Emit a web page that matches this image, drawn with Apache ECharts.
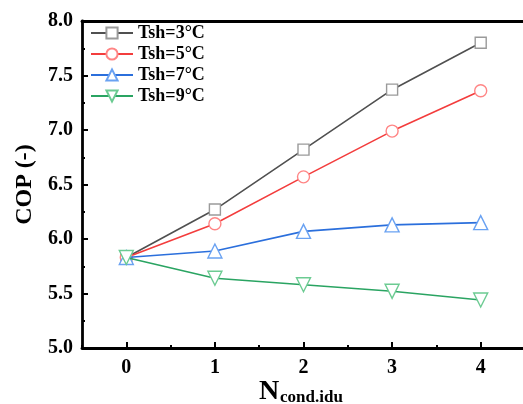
<!DOCTYPE html>
<html><head><meta charset="utf-8">
<script src="https://cdn.jsdelivr.net/npm/echarts@6/dist/echarts.min.js"></script>
<style>html,body{margin:0;padding:0;background:#fff}#c{width:523px;height:404px}</style>
</head><body><div id="c"></div>
<script>
var categories = [0, 1, 2, 3, 4];
var seriesNames = ['Tsh=3°C', 'Tsh=5°C', 'Tsh=7°C', 'Tsh=9°C'];
var tsh3 = [5.83, 6.27, 6.82, 7.37, 7.80];
var tsh5 = [5.83, 6.14, 6.57, 6.99, 7.36];
var tsh7 = [5.83, 5.89, 6.07, 6.13, 6.15];
var tsh9 = [5.83, 5.64, 5.58, 5.52, 5.44];
var xTickLabels = [0, 1, 2, 3, 4];
var xName = 'N';
var xNameSub = 'cond.idu';
var yName = 'COP (-)';

var FONT = '"Liberation Serif","Times New Roman",serif';
var lineColors = ['#505050', '#f33d3d', '#2b6fdc', '#2aa462'];
var markColors = ['#9a9a9a', '#ff8585', '#6aa2f2', '#6ccb92'];
var symbols = ['rect', 'circle', 'triangle', 'path://M0,0 L10,0 L5,9 Z'];
var sizes = [11, 12, 14, 14];
var datas = [tsh3, tsh5, tsh7, tsh9];

var series = datas.map(function (d, i) {
  return {
    name: seriesNames[i], type: 'line',
    data: categories.map(function (c, j) { return [c, d[j]]; }),
    symbol: symbols[i], symbolSize: sizes[i],
    lineStyle: { color: lineColors[i], width: 1.6 },
    itemStyle: { color: '#fff', borderColor: markColors[i], borderWidth: 1.4 },
    emphasis: { disabled: true }, animation: false, z: 3 + i
  };
});

var chart = echarts.init(document.getElementById('c'), null, { renderer: 'canvas' });
chart.setOption({
  animation: false,
  backgroundColor: '#fff',
  grid: { left: 82, top: 21, right: -2, bottom: 56, containLabel: false, outerBoundsMode: 'none' },
  legend: {
    orient: 'vertical', left: 90, top: 24, padding: 0, itemWidth: 42, itemHeight: 14, itemGap: 3,
    data: seriesNames,
    textStyle: { fontFamily: FONT, fontWeight: 'bold', fontSize: 18, color: '#000', lineHeight: 18 }
  },
  graphic: [{
    type: 'text', left: 259, top: 378, silent: true,
    style: { text: xName, fontFamily: FONT, fontWeight: 'bold', fontSize: 28, fill: '#000' }
  }, {
    type: 'text', left: 280, top: 389, silent: true,
    style: { text: xNameSub, fontFamily: FONT, fontWeight: 'bold', fontSize: 17, fill: '#000' }
  }],
  xAxis: [{
    type: 'value', min: -0.5, max: 4.5, position: 'bottom',
    axisLine: { show: true, onZero: false, lineStyle: { color: '#000', width: 2.8 } },
    axisTick: { show: true, inside: true, length: 6, customValues: xTickLabels, lineStyle: { color: '#000', width: 2 } },
    axisLabel: { customValues: xTickLabels, margin: 10, fontFamily: FONT, fontWeight: 'bold', fontSize: 20, color: '#000' },
    splitLine: { show: false }
  }, {
    type: 'value', min: -0.5, max: 4.5, interval: 0.5, position: 'bottom',
    axisLine: { show: false, onZero: false },
    axisTick: { show: true, inside: true, length: 3, lineStyle: { color: '#000', width: 2 } },
    axisLabel: { show: false }, splitLine: { show: false }
  }, {
    type: 'value', min: -0.5, max: 4.5, position: 'top',
    axisLine: { show: true, onZero: false, lineStyle: { color: '#000', width: 2.8 } },
    axisTick: { show: false }, axisLabel: { show: false }, splitLine: { show: false }
  }],
  yAxis: [{
    type: 'value', min: 5, max: 8, interval: 0.5,
    axisLine: { show: true, onZero: false, lineStyle: { color: '#000', width: 2.8 } },
    axisTick: { show: true, inside: true, length: 6, lineStyle: { color: '#000', width: 2 } },
    minorTick: { show: true, splitNumber: 2, length: 3, lineStyle: { color: '#000', width: 2 } },
    axisLabel: { margin: 9, fontFamily: FONT, fontWeight: 'bold', fontSize: 20, color: '#000',
      formatter: function (v) { return v.toFixed(1); } },
    splitLine: { show: false },
    name: yName, nameLocation: 'middle', nameGap: 45, nameRotate: 90,
    nameTextStyle: { fontFamily: FONT, fontWeight: 'bold', fontSize: 24, color: '#000' }
  }],
  series: series
});
</script></body></html>
